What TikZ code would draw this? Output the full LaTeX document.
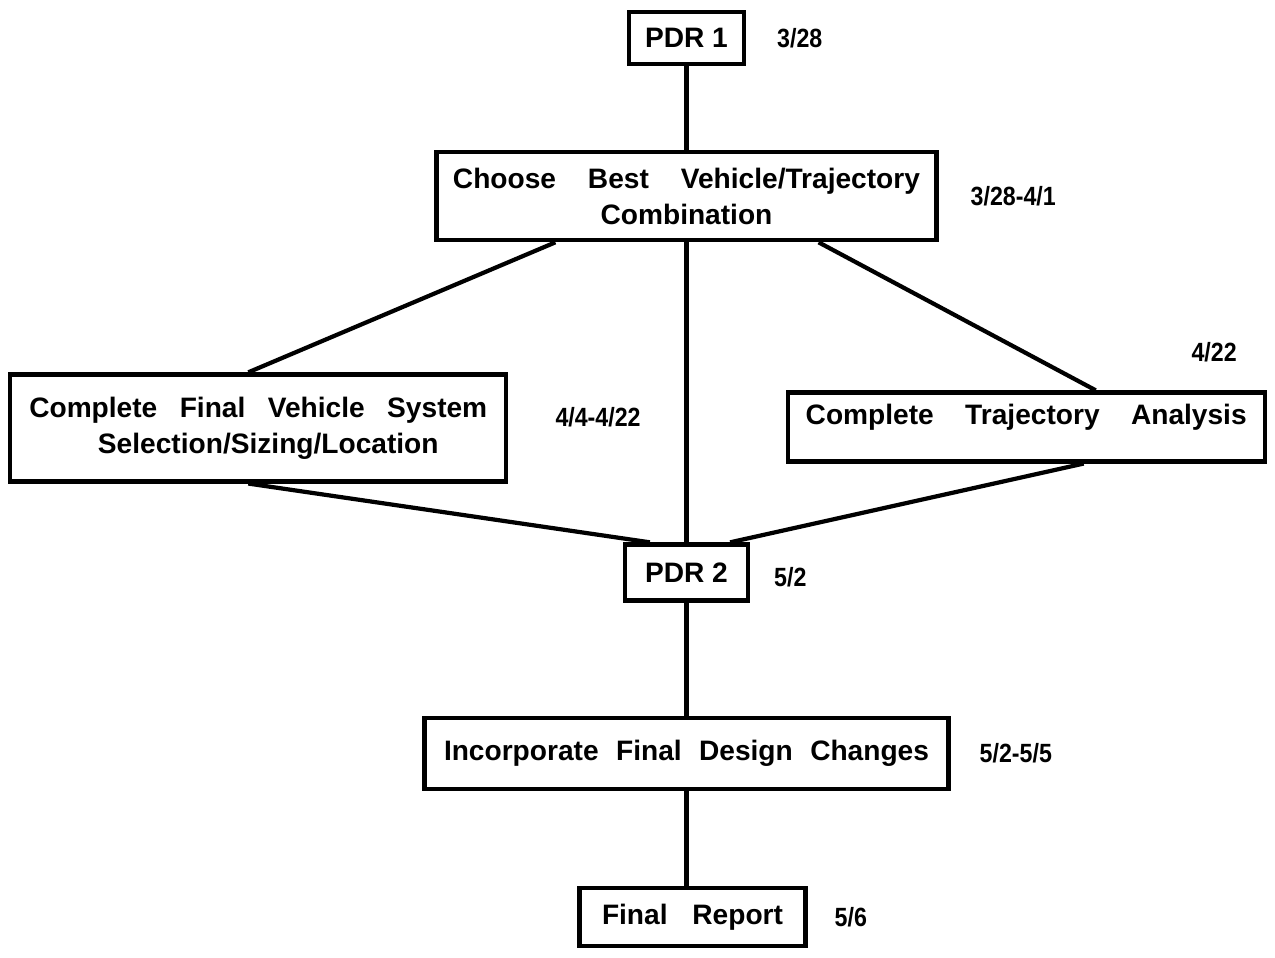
\documentclass[tikz,border=0pt]{standalone}
\usepackage{fontspec}
\setmainfont{Liberation Sans}
\newfontfamily\datefamily[FakeStretch=0.88]{Liberation Sans}
\newcommand{\boxfont}{\bfseries\fontsize{16pt}{20.5pt}\selectfont}
\newcommand{\datefont}{\datefamily\bfseries\fontsize{15pt}{17pt}\selectfont}
\newcommand{\spreadline}[2]{\makebox[#1][s]{#2}}
\usepackage{tikz}
\usetikzlibrary{positioning}
\tikzset{
  every picture/.style = {
    line width = 2.4pt,
    node distance = 1.5cm and 0.5cm,
  }
  ,
  task/.style = {
    rectangle,
    draw,
    font = \boxfont,
    align = center,
    inner sep = 0pt
  }
  , % dates beside the tasks
  label-date/.style = {
    font = \datefont,
    inner sep = 0pt
  }
}
\begin{document}
\begin{tikzpicture}
    \useasboundingbox (-13.73,0.76) rectangle (11.77,-18.38);
    \node [task, minimum width = 2.3cm, minimum height = 1.04cm] (pdr1) {PDR 1};
    \node [task, below = 1.68cm of pdr1, minimum width = 10cm, minimum height = 1.76cm] (choose)
        {\spreadline{9.34cm}{Choose Best Vehicle/Trajectory}\\Combination};
    \node [task, below left = 2.6cm and -1.48cm of choose, minimum width = 9.92cm, minimum height = 2.14cm] (vehicle)
        {\spreadline{9.16cm}{Complete Final Vehicle System}\\\hspace{0.4cm}Selection/Sizing/Location};
    \node [task, below right = 2.96cm and -3.06cm of choose, minimum width = 9.54cm, minimum height = 1.38cm,
           text height = 11pt, text depth = 13.6pt] (traj)
        {\spreadline{8.82cm}{Complete Trajectory Analysis}};
    \node [task, below = 6cm of choose, minimum width = 2.46cm, minimum height = 1.12cm] (pdr2) {PDR 2};
    \node [task, below = 2.26cm of pdr2, minimum width = 10.48cm, minimum height = 1.42cm] (incorp)
        {\spreadline{9.7cm}{Incorporate Final Design Changes}};
    \node [task, below = 1.9cm of incorp, xshift = 0.12cm, minimum width = 4.52cm, minimum height = 1.16cm] (report)
        {\spreadline{3.62cm}{Final Report}};
    % dates
    \node [label-date, right = 0.58cm of pdr1] (d-pdr1) {3/28};
    \node [label-date, right = 0.6cm of choose] (d-choose) {3/28-4/1};
    \node [label-date, right = 0.9cm of vehicle, yshift = 0.22cm] (d-vehicle) {4/4-4/22};
    \node [label-date, above left = 0.52cm and 0.56cm of traj.north east] (d-traj) {4/22};
    \node [label-date, right = 0.44cm of pdr2, yshift = -0.1cm] (d-pdr2) {5/2};
    \node [label-date, right = 0.54cm of incorp] (d-incorp) {5/2-5/5};
    \node [label-date, right = 0.5cm of report] (d-report) {5/6};
    % connectors
    \draw (pdr1) -- (choose);
    \draw ([xshift = 2.42cm]choose.south west) -- ([xshift = -0.2cm]vehicle.north);
    \draw ([xshift = -2.4cm]choose.south east) -- ([xshift = 1.39cm]traj.north);
    \draw (choose) -- (pdr2);
    \draw ([xshift = -0.2cm]vehicle.south) -- ([xshift = 0.54cm]pdr2.north west);
    \draw ([xshift = 1.15cm]traj.south) -- ([xshift = -0.4cm]pdr2.north east);
    \draw (pdr2) -- (incorp);
    \draw (incorp) -- (incorp.south |- report.north);
\end{tikzpicture}
\end{document}
